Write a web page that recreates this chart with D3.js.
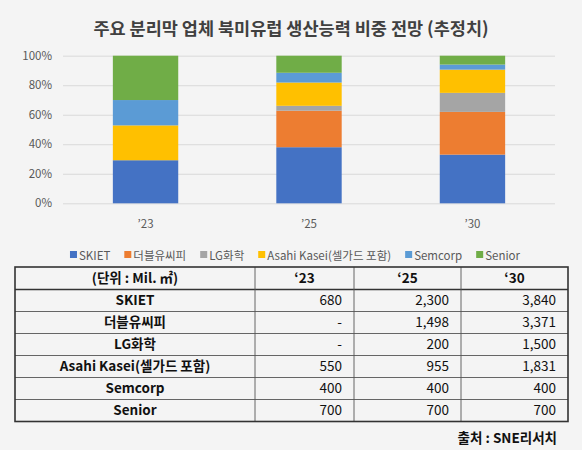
<!DOCTYPE html>
<html><head><meta charset="utf-8">
<script src="https://cdn.jsdelivr.net/npm/d3@7"></script>
<style>
html,body{margin:0;padding:0;background:#f4f4f4;}
svg{display:block;font-family:"Noto Sans CJK KR","Noto Sans",sans-serif;}
</style></head>
<body>
<svg id="c" width="582" height="450"></svg>
<script>
const title = "주요 분리막 업체 북미유럽 생산능력 비중 전망 (추정치)";
const years = ["’23", "’25", "’30"];
const tableYears = ["‘23", "‘25", "‘30"];
const companies = ["SKIET", "더블유씨피", "LG화학", "Asahi Kasei(셀가드 포함)", "Semcorp", "Senior"];
const SKIET = [680, 2300, 3840];
const WCP = [0, 1498, 3371];
const LGChem = [0, 200, 1500];
const Asahi = [550, 955, 1831];
const Semcorp = [400, 400, 400];
const Senior = [700, 700, 700];
const colors = ["#4472C4", "#ED7D31", "#A5A5A5", "#FFC000", "#5B9BD5", "#70AD47"];
const yTicks = [0, 0.2, 0.4, 0.6, 0.8, 1.0];
const unitLabel = "(단위 : Mil. ㎡)";
const source = "출처 : SNE리서치";

const series = [SKIET, WCP, LGChem, Asahi, Semcorp, Senior];
const rows = years.map((y, i) => {
  const o = {year: y};
  companies.forEach((c, k) => o[c] = series[k][i]);
  return o;
});

const svg = d3.select("#c");
svg.append("rect").attr("width", 582).attr("height", 450).attr("fill", "#f4f4f4");

svg.append("text").attr("x", 291).attr("y", 35).attr("text-anchor", "middle")
  .attr("font-size", 17.5).attr("font-weight", "bold").attr("fill", "#404040").text(title);

const x = d3.scaleBand().domain(years).range([63, 555]).paddingInner(0.6).paddingOuter(0.305);
const y = d3.scaleLinear().domain([0, 1]).range([203.3, 55.7]);

const ya = svg.append("g").attr("transform", "translate(63,0)")
  .call(d3.axisLeft(y).tickValues(yTicks).tickFormat(d3.format(".0%")).tickSize(-492).tickPadding(11));
ya.select(".domain").remove();
ya.selectAll("line").attr("stroke", "#d9d9d9").attr("stroke-width", 1);
ya.selectAll("text").attr("fill", "#595959").attr("font-size", 11.5).attr("font-family", "'Noto Sans CJK KR',sans-serif");

const stack = d3.stack().keys(companies).offset(d3.stackOffsetExpand);
const stacked = stack(rows);

svg.append("g").selectAll("g").data(stacked).join("g")
  .attr("fill", (d, i) => colors[i])
  .selectAll("rect").data(d => d).join("rect")
  .attr("x", d => x(d.data.year))
  .attr("width", x.bandwidth())
  .attr("y", d => y(d[1]))
  .attr("height", d => Math.max(0, y(d[0]) - y(d[1])));

svg.append("g").selectAll("text").data(years).join("text")
  .attr("x", d => x(d) + x.bandwidth() / 2).attr("y", 228)
  .attr("text-anchor", "middle").attr("font-size", 11.5).attr("fill", "#595959").text(d => d);

const lg = svg.append("g");
const items = lg.selectAll("g").data(companies).join("g");
items.append("rect").attr("width", 7).attr("height", 7).attr("y", -4).attr("fill", (d, i) => colors[i]);
items.append("text").attr("x", 9).attr("y", 0).attr("dy", "0.4em").attr("font-size", 11.5).attr("fill", "#595959").text(d => d);
const widths = [];
items.each(function(d) { widths.push(9 + this.querySelector("text").getComputedTextLength()); });
const gap = 14;
const total = d3.sum(widths) + gap * (widths.length - 1);
const startX = 295 - total / 2;
items.attr("transform", (d, i) => {
  const tx = startX + d3.sum(widths.slice(0, i)) + gap * i;
  return `translate(${tx},${255})`;
});

const colX = [15, 255, 354, 461, 568];
const tTop = 267, headH = 22.5, rowH = 22;
const tg = svg.append("g");
const nRows = companies.length;
const tBottom = tTop + headH + rowH * nRows;
const fmt = v => v === 0 ? "-" : d3.format(",")(v);

tg.append("text").attr("x", (colX[0] + colX[1]) / 2).attr("y", tTop + headH / 2).attr("dy", "0.36em")
  .attr("text-anchor", "middle").attr("font-weight", "bold").attr("font-size", 13.5).attr("fill", "#111").text(unitLabel);
tg.selectAll(".hy").data(tableYears).join("text").attr("class", "hy")
  .attr("x", (d, i) => (colX[i + 1] + colX[i + 2]) / 2).attr("y", tTop + headH / 2).attr("dy", "0.36em")
  .attr("text-anchor", "middle").attr("font-weight", "bold").attr("font-size", 13.5).attr("fill", "#111").text(d => d);

const rg = tg.selectAll(".row").data(companies).join("g").attr("class", "row")
  .attr("transform", (d, i) => `translate(0,${tTop + headH + rowH * i})`);
rg.append("text").attr("x", (colX[0] + colX[1]) / 2).attr("y", rowH / 2).attr("dy", "0.36em")
  .attr("text-anchor", "middle").attr("font-weight", "bold").attr("font-size", 13.5).attr("fill", "#111").text(d => d);
rg.each(function(d, i) {
  d3.select(this).selectAll(".v").data(series[i]).join("text").attr("class", "v")
    .attr("x", (v, j) => colX[j + 2] - 12).attr("y", rowH / 2).attr("dy", "0.36em")
    .attr("text-anchor", "end").attr("font-size", 13.5).attr("fill", "#111").text(fmt);
});

for (let i = 1; i < nRows; i++) {
  const yy = tTop + headH + rowH * i;
  tg.append("line").attr("x1", colX[0]).attr("x2", colX[4]).attr("y1", yy).attr("y2", yy).attr("stroke", "#555").attr("stroke-width", 0.9);
}
tg.append("line").attr("x1", colX[0]).attr("x2", colX[4]).attr("y1", tTop + headH).attr("y2", tTop + headH).attr("stroke", "#333").attr("stroke-width", 1.6);
[1, 2, 3].forEach(k => tg.append("line").attr("x1", colX[k]).attr("x2", colX[k]).attr("y1", tTop).attr("y2", tBottom).attr("stroke", "#555").attr("stroke-width", 0.9));
tg.append("rect").attr("x", colX[0]).attr("y", tTop).attr("width", colX[4] - colX[0]).attr("height", tBottom - tTop)
  .attr("fill", "none").attr("stroke", "#333").attr("stroke-width", 1.6);

svg.append("text").attr("x", 557).attr("y", 438).attr("dy", "0.35em").attr("text-anchor", "end")
  .attr("font-weight", "bold").attr("font-size", 13.5).attr("fill", "#111").text(source);
</script>
</body></html>
